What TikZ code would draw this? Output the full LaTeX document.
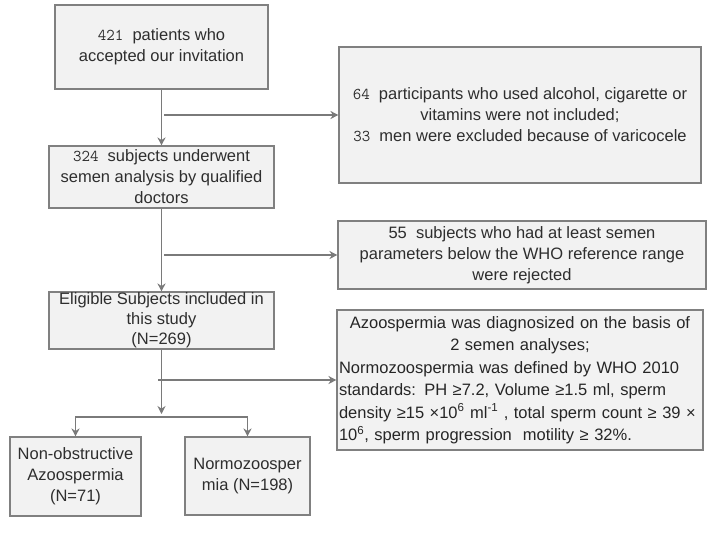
\documentclass[tikz,border=0pt]{standalone}
\usepackage{fontspec}
\setmainfont{Liberation Sans}
\usepackage{xcolor}
\usepackage{tikz}
\usetikzlibrary{shapes,arrows,positioning,calc,arrows.meta}

\definecolor{boxgray}{HTML}{808080}
\definecolor{boxfill}{HTML}{F2F2F2}
\definecolor{linegray}{HTML}{7A7A7A}
\definecolor{textgray}{HTML}{2E2E2E}

\begin{document}
\begin{tikzpicture}[
    x=1pt, y=-1pt,
    box/.style={rectangle, draw=boxgray, line width=1.1pt, fill=boxfill,
        inner sep=0pt, align=center, text=textgray, font=\fontsize{16.5}{21}\selectfont},
    ptr/.style={-{Stealth[length=8pt, width=8pt]}, line width=1.4pt, draw=linegray}
]
    \useasboundingbox (0,0) rectangle (714,533);

    % main column
    \node[box, minimum width=213pt, minimum height=84pt] (invited) at (161.5,47)
        {{\ttfamily 421}\ \ patients who\\accepted our invitation};
    \node[box, minimum width=225pt, minimum height=62pt] (analysed) at (161.5,177)
        {{\ttfamily 324}\ \ subjects underwent\\semen analysis by qualified\\doctors};
    \node[box, minimum width=225pt, minimum height=57pt, font=\fontsize{16.5}{20}\selectfont] (eligible) at (161.5,320.5)
        {Eligible Subjects included in\\this study\\(N=269)};
    \node[box, minimum width=131pt, minimum height=79pt] (noa) at (75.5,476.5)
        {Non-obstructive\\Azoospermia\\(N=71)};
    \node[box, minimum width=125pt, minimum height=78pt] (normal) at (247.5,476)
        {Normozoosper\\mia (N=198)};

    % exclusions
    \node[box, minimum width=362pt, minimum height=136pt] (excl1) at (520,115)
        {{\ttfamily 64}\ \ participants who used alcohol, cigarette or\\vitamins were not included;\\{\ttfamily 33}\ \ men were excluded because of varicocele};
    \node[box, minimum width=368pt, minimum height=68pt] (excl2) at (522,255)
        {55\ \ subjects who had at least semen\\parameters below the WHO reference range\\were rejected};
    \node[box, minimum width=366pt, minimum height=140pt, text width=362pt, align=left,
        text=black!85, font=\fontsize{16.5}{22.5}\selectfont] (criteria) at (520,380)
        {{\centering Azoospermia was diagnosized on the basis of\\2 semen analyses;\par}
        Normozoospermia was defined by WHO 2010\\
        standards: PH ≥7.2, Volume ≥1.5 ml, sperm\\
        density ≥15 ×10\textsuperscript{6} ml\textsuperscript{-1} , total sperm count ≥ 39 ×\\
        10\textsuperscript{6}, sperm progression\ \ motility ≥ 32\%.};

    % connectors
    \coordinate (b1) at (164,115);
    \coordinate (b2) at (164,255);
    \coordinate (b3) at (158,380);
    \coordinate (split) at (161.5,417);

    \draw[ptr] (invited) -- (analysed);
    \draw[ptr] (analysed) -- (eligible);
    \draw[ptr] (b1) -- (excl1);
    \draw[ptr] (b2) -- (excl2);
    \draw[ptr] (b3) -- (criteria);
    \draw[ptr] (eligible) -- ([yshift=3pt]split);
    \draw[ptr] (split) -| (noa.north);
    \draw[ptr] (split) -| (normal.north);
\end{tikzpicture}
\end{document}
